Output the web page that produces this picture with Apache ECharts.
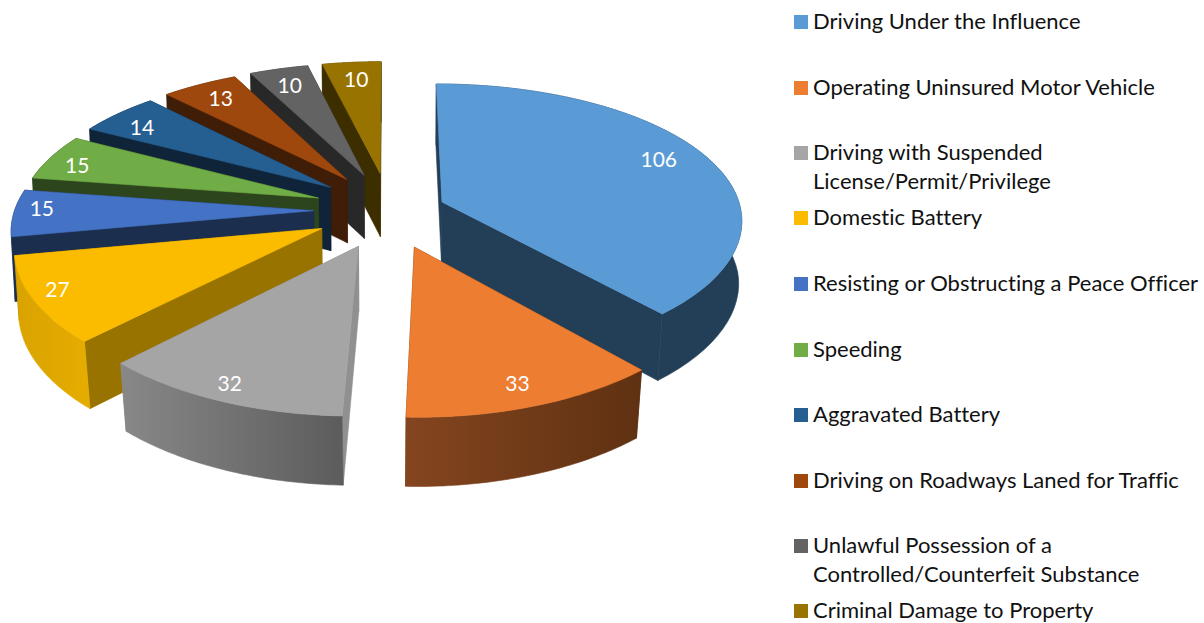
<!DOCTYPE html>
<html><head><meta charset="utf-8"><style>html,body{margin:0;padding:0;background:#fff}#c{width:1204px;height:623px}#c text{font-variant-ligatures:none}</style>
<script src="https://cdn.jsdelivr.net/npm/echarts@6/dist/echarts.min.js"></script></head>
<body><div id="c"></div><script>
const categories=['Driving Under the Influence','Operating Uninsured Motor Vehicle','Driving with Suspended\nLicense/Permit/Privilege','Domestic Battery','Resisting or Obstructing a Peace Officer','Speeding','Aggravated Battery','Driving on Roadways Laned for Traffic','Unlawful Possession of a\nControlled/Counterfeit Substance','Criminal Damage to Property'];
const values=[106,33,32,27,15,15,14,13,10,10];
const explosionX=[0.77,1,1,1,1,1,1,1,1,1];
const explosionY=[0.6,1,1,1,1,1,1,1,1,1];
const labelShift=[[-12,-5],[1,2],[-11,6],[-19,-1],[-14,-5],[-10,2],[-4,3],[2,1],[0,2],[1,2]];
const topColors=['#5B9BD5','#ED7D31','#A5A5A5','#FBBC00','#4472C4','#70AD47','#255E91','#9E480E','#636363','#997300'];
const cutColors=['#233E57','#5F3112','#909090','#997300','#1B2E4E','#2D451C','#0F2438','#3F1D06','#282828','#3D2E00'];
const rimLeft=['#233E57','#84451F','#888888','#D9A300','#1B2E4E','#2D451C','#0F2438','#3F1D06','#282828','#3D2E00'];
const rimRight=['#233E57','#5F3112','#5C5C5C','#E6AD00','#1B2E4E','#2D451C','#0F2438','#3F1D06','#282828','#3D2E00'];
const legendCentres=[22,88,153,218,284,350,415,481,546,611];

const V={cx:388.5,cy:210,rx:299,ry:136,ex:0.25,ey:0.28,px:0.12,py:0.135,labelR:0.86};
const total=values.reduce((a,b)=>a+b,0);
const rad=d=>d*Math.PI/180;
let run=0;
const slices=values.map((v,i)=>{const a0=run/total*360;run+=v;const a1=run/total*360;return{i,a0,a1,m:(a0+a1)/2};});
function project(wx,wy,bottom){
  const wX=1/(1-V.px*wy),wY=1/(1-V.py*wy);
  let sx=V.rx*wx*wX, sy=V.cy+V.ry*wy*wY;
  if(bottom){sx*=1-(0.008+0.012*Math.max(wy,0));sy+=38.5+25.5*wY;}
  return [V.cx+sx,sy];
}
function sliceGeom(s){
  const mr=rad(s.m);
  const ox=V.ex*explosionX[s.i]*Math.sin(mr),oy=-V.ey*explosionY[s.i]*Math.cos(mr);
  const pt=(a,r,b)=>project(ox+r*Math.sin(rad(a)),oy-r*Math.cos(rad(a)),b);
  return{pt,ox,oy};
}
function poly(points,fill,z2){return{type:'polygon',shape:{points},z2,style:{fill,stroke:fill,lineWidth:0.6}};}
function makeRender(s){
  return function(){
    const g=sliceGeom(s),n=48,top=[],bot=[];
    for(let j=0;j<=n;j++){const a=s.a0+(s.a1-s.a0)*j/n;top.push(g.pt(a,1,false));bot.push(g.pt(a,1,true));}
    const apexT=g.pt(s.a0,0,false),apexB=g.pt(s.a0,0,true);
    const cut=cutColors[s.i];
    const rimFill={type:'linear',x:0,y:0,x2:1,y2:0,colorStops:[{offset:0,color:rimLeft[s.i]},{offset:1,color:rimRight[s.i]}]};
    const lab=g.pt(s.m,V.labelR,false),sh=labelShift[s.i];
    return{type:'group',children:[
      poly([apexT,top[0],bot[0],apexB],cut,1),
      poly([apexT,top[n],bot[n],apexB],cut,1),
      poly(top.concat(bot.slice().reverse()),rimFill,2),
      poly([apexT].concat(top),topColors[s.i],3),
      {type:'text',z2:4,style:{text:String(values[s.i]),x:lab[0]+sh[0],y:lab[1]+sh[1],fill:'#fff',align:'center',verticalAlign:'middle',font:'21px Lato'}}
    ]};
  };
}
const order=slices.slice().sort((a,b)=>sliceGeom(a).oy-Math.cos(rad(a.m))-(sliceGeom(b).oy-Math.cos(rad(b.m))));
const zOf={};order.forEach((s,idx)=>zOf[s.i]=idx+2);
const series=slices.map(s=>({type:'custom',name:categories[s.i],coordinateSystem:'none',silent:true,animation:false,z:zOf[s.i],itemStyle:{color:topColors[s.i]},data:[values[s.i]],renderItem:makeRender(s)}));
const LINE=29;
const legend=categories.map((name,i)=>{
  const two=name.indexOf('\n')>=0;
  const h=two?LINE*2:LINE;
  return {data:[name],orient:'vertical',left:794,top:legendCentres[i]-16.5,padding:0,itemGap:0,itemWidth:14,itemHeight:h,selectedMode:false,textStyle:{fontFamily:'Lato',fontSize:22,color:'#111',lineHeight:LINE},
    icon:'path://M0 9.5H14V23.5H0Z M0 0H0.01V0.01H0Z M0 '+(h-0.01)+'H0.01V'+h+'H0Z'};
});
const chart=echarts.init(document.getElementById('c'),null,{renderer:'svg'});
chart.setOption({animation:false,backgroundColor:'#fff',legend,series});
</script></body></html>
